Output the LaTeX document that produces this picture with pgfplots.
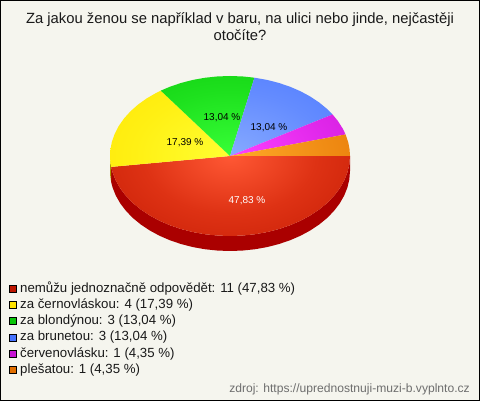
\documentclass[border=0pt]{standalone}
\usepackage{pgfplots}
\usepackage{pgfplotstable}
\usepackage{fontspec}
\setmainfont{Liberation Sans}
\pgfplotsset{compat=1.18}
\definecolor{bg}{RGB}{245,245,238}
\definecolor{rA}{RGB}{255,88,52}\definecolor{rM}{RGB}{222,50,20}\definecolor{rB}{RGB}{190,22,0}
\definecolor{yA}{RGB}{255,255,50}\definecolor{yM}{RGB}{255,240,20}\definecolor{yB}{RGB}{255,226,0}
\definecolor{gA}{RGB}{55,255,55}\definecolor{gM}{RGB}{30,225,30}\definecolor{gB}{RGB}{10,198,10}
\definecolor{bA}{RGB}{135,170,255}\definecolor{bM}{RGB}{100,140,255}\definecolor{bB}{RGB}{70,115,255}
\definecolor{mA}{RGB}{255,65,255}\definecolor{mM}{RGB}{225,40,235}\definecolor{mB}{RGB}{198,20,210}
\definecolor{oA}{RGB}{255,170,40}\definecolor{oM}{RGB}{240,140,20}\definecolor{oB}{RGB}{225,110,0}
\definecolor{rS}{RGB}{170,0,0}
\definecolor{yS}{RGB}{170,150,0}
\definecolor{srcgray}{RGB}{110,110,110}
\pgfdeclareradialshading{pr}{\pgfpointorigin}{color(0bp)=(rA); color(18bp)=(rM); color(42bp)=(rB); color(100bp)=(rB)}
\pgfdeclareradialshading{py}{\pgfpointorigin}{color(0bp)=(yA); color(20bp)=(yM); color(42bp)=(yB); color(100bp)=(yB)}
\pgfdeclareradialshading{pg}{\pgfpointorigin}{color(0bp)=(gA); color(20bp)=(gM); color(42bp)=(gB); color(100bp)=(gB)}
\pgfdeclareradialshading{pb}{\pgfpointorigin}{color(0bp)=(bA); color(20bp)=(bM); color(42bp)=(bB); color(100bp)=(bB)}
\pgfdeclareradialshading{pm}{\pgfpointorigin}{color(0bp)=(mA); color(20bp)=(mM); color(42bp)=(mB); color(100bp)=(mB)}
\pgfdeclareradialshading{po}{\pgfpointorigin}{color(0bp)=(oA); color(20bp)=(oM); color(42bp)=(oB); color(100bp)=(oB)}
% angle (deg, clockwise from east), radius fraction; rows with r=5 fall outside the y domain and break the path
% values 11, 4, 3, 3, 1, 1 of 23 -> slices end at 172.17, 234.78, 281.74, 328.70, 344.35, 360
\pgfplotstableread{
a r
225 1.41421
90 5
45 1.41421
90 5
0 0
0 1
6 1
12 1
18 1
24 1
30 1
36 1
42 1
48 1
54 1
60 1
66 1
72 1
78 1
84 1
90 1
96 1
102 1
108 1
114 1
120 1
126 1
132 1
138 1
144 1
150 1
156 1
162 1
168 1
172.17 1
0 0
}\tred
\pgfplotstableread{
a r
225 1.41421
90 5
45 1.41421
90 5
0 0
172.17 1
178 1
184 1
190 1
196 1
202 1
208 1
214 1
220 1
226 1
232 1
234.78 1
0 0
}\tyel
\pgfplotstableread{
a r
225 1.41421
90 5
45 1.41421
90 5
0 0
234.78 1
240 1
246 1
252 1
258 1
264 1
270 1
276 1
281.74 1
0 0
}\tgre
\pgfplotstableread{
a r
225 1.41421
90 5
45 1.41421
90 5
0 0
281.74 1
288 1
294 1
300 1
306 1
312 1
318 1
324 1
328.70 1
0 0
}\tblu
\pgfplotstableread{
a r
225 1.41421
90 5
45 1.41421
90 5
0 0
328.70 1
334 1
340 1
344.35 1
0 0
}\tmag
\pgfplotstableread{
a r
225 1.41421
90 5
45 1.41421
90 5
0 0
344.35 1
350 1
355 1
360 1
0 0
}\tora
\pgfplotstableread{
a d
0 0
6 0
12 0
18 0
24 0
30 0
36 0
42 0
48 0
54 0
60 0
66 0
72 0
78 0
84 0
90 0
96 0
102 0
108 0
114 0
120 0
126 0
132 0
138 0
144 0
150 0
156 0
162 0
168 0
172.17 0
172.17 15
168 15
162 15
156 15
150 15
144 15
138 15
132 15
126 15
120 15
114 15
108 15
102 15
96 15
90 15
84 15
78 15
72 15
66 15
60 15
54 15
48 15
42 15
36 15
30 15
24 15
18 15
12 15
6 15
0 15
}\tside
\pgfplotstableread{
a d
172.17 0
176 0
180 0
180 15
176 15
172.17 15
}\tsidey
\pgfplotsset{
  wedge/.style={draw=none,no marks,shade,shading=#1,
    unbounded coords=jump,restrict y to domain=0:401},
}
\begin{document}
\begin{tikzpicture}
\begin{axis}[
  x=1pt,y=1pt,scale only axis,hide axis,clip=false,
  xmin=0,xmax=480,ymin=0,ymax=401,y dir=reverse,
  enlargelimits=false,
]
\addplot[fill=black,draw=none,no marks] coordinates {(0,0) (480,0) (480,401) (0,401)} -- cycle;
\addplot[fill=bg,draw=none,no marks] coordinates {(1,1) (478.6,1) (478.6,399.6) (1,399.6)} -- cycle;
\addplot[fill=rS,draw=none,no marks] table[x expr={230+120*cos(\thisrow{a})},y expr={156+\thisrow{d}+80*sin(\thisrow{a})}] {\tside} -- cycle;
\addplot[fill=yS,draw=none,no marks] table[x expr={230+120*cos(\thisrow{a})},y expr={156+\thisrow{d}+80*sin(\thisrow{a})}] {\tsidey} -- cycle;
\addplot[wedge=pr] table[x expr={230+120*\thisrow{r}*cos(\thisrow{a})},y expr={156+80*\thisrow{r}*sin(\thisrow{a})}] {\tred};
\addplot[wedge=py] table[x expr={230+120*\thisrow{r}*cos(\thisrow{a})},y expr={156+80*\thisrow{r}*sin(\thisrow{a})}] {\tyel};
\addplot[wedge=pg] table[x expr={230+120*\thisrow{r}*cos(\thisrow{a})},y expr={156+80*\thisrow{r}*sin(\thisrow{a})}] {\tgre};
\addplot[wedge=pb] table[x expr={230+120*\thisrow{r}*cos(\thisrow{a})},y expr={156+80*\thisrow{r}*sin(\thisrow{a})}] {\tblu};
\addplot[wedge=pm] table[x expr={230+120*\thisrow{r}*cos(\thisrow{a})},y expr={156+80*\thisrow{r}*sin(\thisrow{a})}] {\tmag};
\addplot[wedge=po] table[x expr={230+120*\thisrow{r}*cos(\thisrow{a})},y expr={156+80*\thisrow{r}*sin(\thisrow{a})}] {\tora};
% slice labels
\node[font=\fontsize{10}{12}\selectfont,text=white] at (axis cs:247,201) {47,83 \%};
\node[font=\fontsize{10}{12}\selectfont] at (axis cs:185,142.5) {17,39 \%};
\node[font=\fontsize{10}{12}\selectfont] at (axis cs:222,118) {13,04 \%};
\node[font=\fontsize{10}{12}\selectfont] at (axis cs:269,128) {13,04 \%};
% title
\node[font=\fontsize{14.8}{16}\selectfont,text=black!90] at (axis cs:240,20) {Za jakou ženou se například v baru, na ulici nebo jinde, nejčastěji};
\node[font=\fontsize{14.8}{16}\selectfont,text=black!90] at (axis cs:240,35.5) {otočíte?};
% legend swatches
\addplot[only marks,mark=square*,mark size=3.4pt,mark options={fill=rB,draw=black,line width=0.7pt}] coordinates {(12.5,288.5)};
\addplot[only marks,mark=square*,mark size=3.4pt,mark options={fill=yB,draw=black,line width=0.7pt}] coordinates {(12.5,305)};
\addplot[only marks,mark=square*,mark size=3.4pt,mark options={fill=gB,draw=black,line width=0.7pt}] coordinates {(12.5,321)};
\addplot[only marks,mark=square*,mark size=3.4pt,mark options={fill=bB,draw=black,line width=0.7pt}] coordinates {(12.5,337.5)};
\addplot[only marks,mark=square*,mark size=3.4pt,mark options={fill=mB,draw=black,line width=0.7pt}] coordinates {(12.5,353.5)};
\addplot[only marks,mark=square*,mark size=3.4pt,mark options={fill=oB,draw=black,line width=0.7pt}] coordinates {(12.5,370)};
\node[anchor=west,inner sep=0pt,font=\fontsize{13.25}{15}\selectfont,text=black!90] at (axis cs:20,288.5) {nemůžu jednoznačně odpovědět: 11 (47,83 \%)};
\node[anchor=west,inner sep=0pt,font=\fontsize{13.25}{15}\selectfont,text=black!90] at (axis cs:20,305) {za černovláskou: 4 (17,39 \%)};
\node[anchor=west,inner sep=0pt,font=\fontsize{13.25}{15}\selectfont,text=black!90] at (axis cs:20,321) {za blondýnou: 3 (13,04 \%)};
\node[anchor=west,inner sep=0pt,font=\fontsize{13.25}{15}\selectfont,text=black!90] at (axis cs:20,337.5) {za brunetou: 3 (13,04 \%)};
\node[anchor=west,inner sep=0pt,font=\fontsize{13.25}{15}\selectfont,text=black!90] at (axis cs:20,353.5) {červenovlásku: 1 (4,35 \%)};
\node[anchor=west,inner sep=0pt,font=\fontsize{13.25}{15}\selectfont,text=black!90] at (axis cs:20,370) {plešatou: 1 (4,35 \%)};
\node[anchor=east,inner sep=0pt,font=\fontsize{12.1}{14}\selectfont,text=srcgray] at (axis cs:470,389) {zdroj: https://uprednostnuji-muzi-b.vyplnto.cz};
\end{axis}
\end{tikzpicture}
\end{document}
